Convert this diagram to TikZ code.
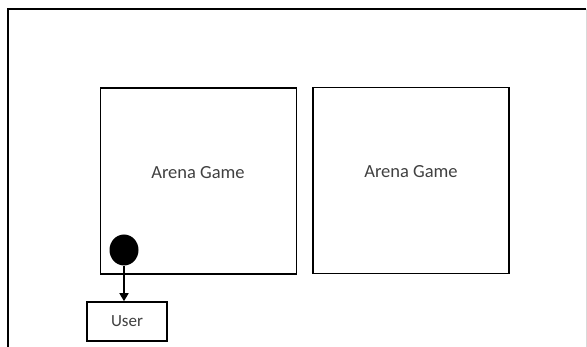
\documentclass[tikz,border=0pt]{standalone}
\usepackage{fontspec}
\setmainfont{Carlito}
\usetikzlibrary{arrows.meta,shapes.geometric}

\begin{document}
\begin{tikzpicture}[
  x=1pt,y=-1pt,
  arena/.style={draw,line width=1.6pt,minimum width=196pt,minimum height=186pt,inner sep=0pt},
  lbl/.style={font=\fontsize{18.5}{22}\selectfont,text=black!75},
  userbox/.style={draw,line width=1.6pt,minimum width=80pt,minimum height=39pt,inner sep=0pt,
    font=\fontsize{17}{20}\selectfont,text=black!75},
  player/.style={ellipse,fill=black,minimum width=29pt,minimum height=31pt,inner sep=0pt},
  arr/.style={-{Triangle[length=8pt,width=9pt]},line width=1.6pt}
]
  \useasboundingbox (0,0) rectangle (587,347);
  % Frame
  \coordinate (fbl) at (8,347);
  \coordinate (ftl) at (8,9);
  \coordinate (ftr) at (586,9);
  \coordinate (fbr) at (586,347);
  \draw[line width=1.6pt] (fbl) -- (ftl) -- (ftr);
  \draw[black!15,line width=1pt] (ftr) -- (fbr);
  % Arenas
  \node[arena] (arena1) at (198.5,181) {};
  \node[arena] (arena2) at (411,180.5) {};
  \node[lbl] (title1) at (198,173) {Arena Game};
  \node[lbl] (title2) at (411,172) {Arena Game};
  % Player and user
  \node[player] (ball) at (124,250) {};
  \node[userbox] (user) at (127,321.5) {User};
  \draw[arr] (ball.south) -- (ball.south |- user.north);
\end{tikzpicture}
\end{document}
